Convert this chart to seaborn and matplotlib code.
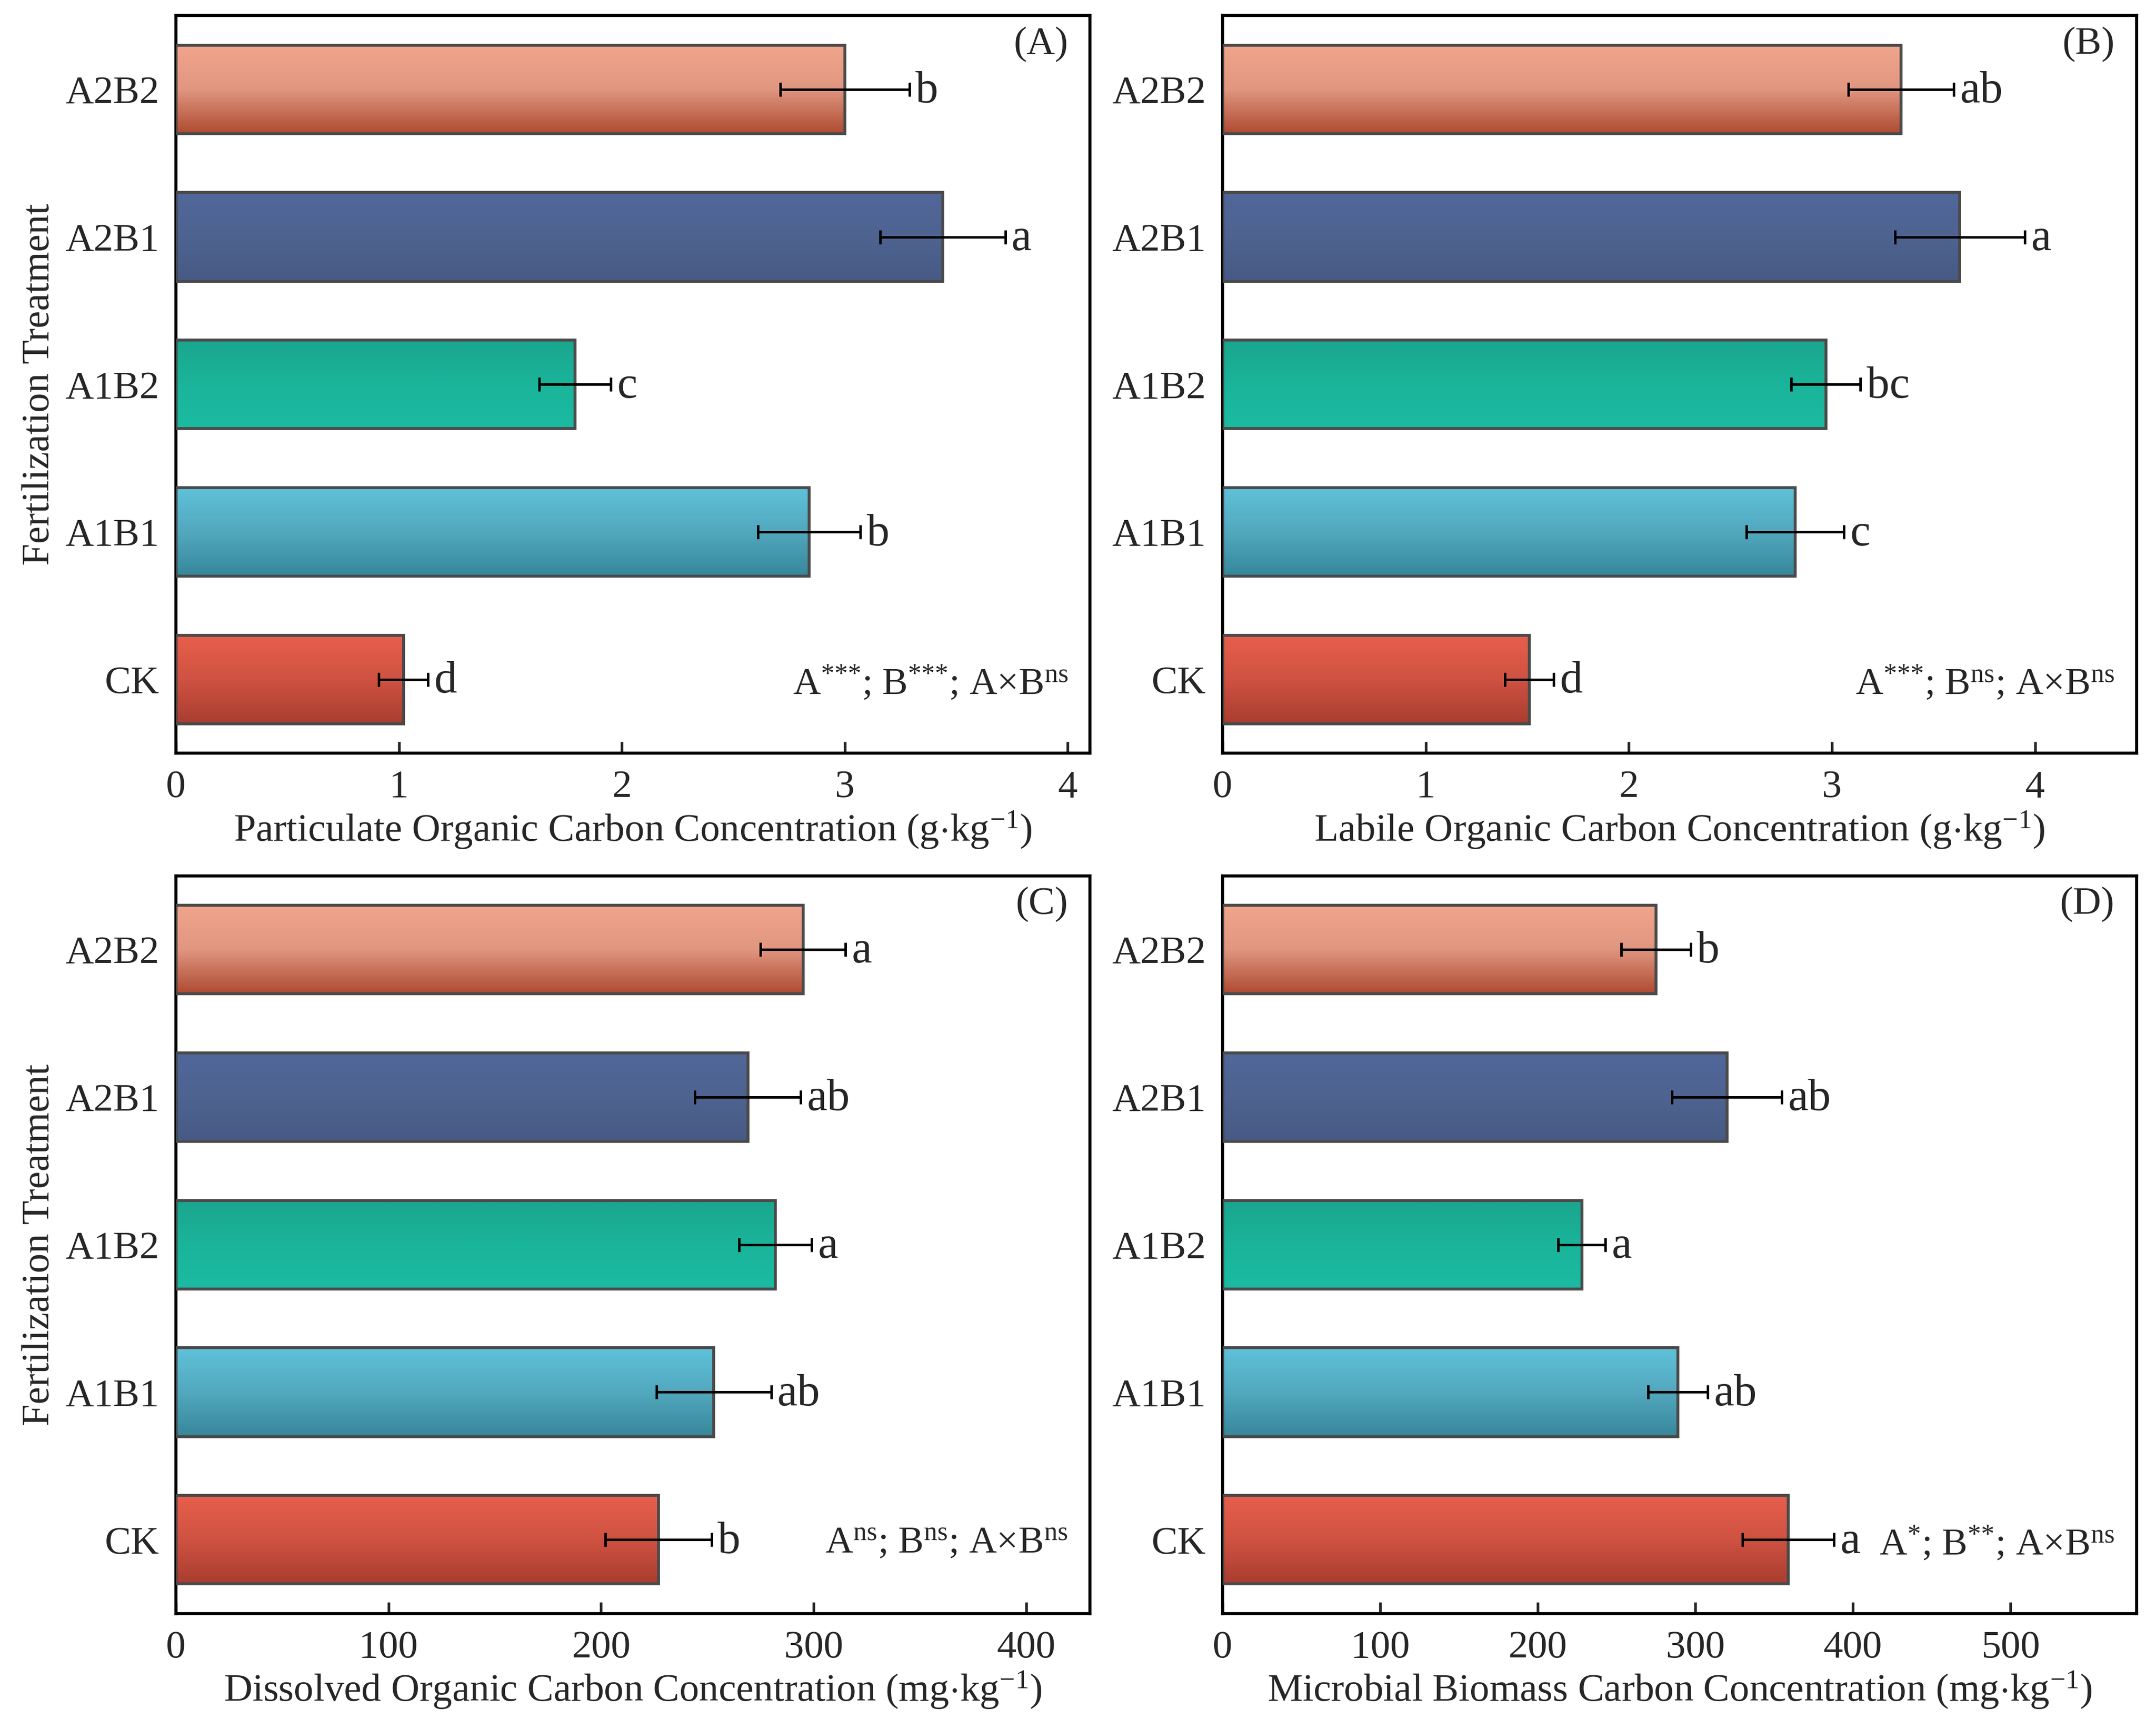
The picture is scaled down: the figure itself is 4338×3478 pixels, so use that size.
import numpy as np
import pandas as pd
import matplotlib
matplotlib.use('Agg')
import matplotlib.pyplot as plt
from matplotlib.colors import LinearSegmentedColormap
import seaborn as sns

# %% podaci

treatments = ['A2B2', 'A2B1', 'A1B2', 'A1B1', 'CK']

poc_mean = [3.00, 3.44, 1.79, 2.84, 1.02]
poc_err = [0.29, 0.28, 0.16, 0.23, 0.11]
poc_letters = ['b', 'a', 'c', 'b', 'd']

loc_mean = [3.34, 3.63, 2.97, 2.82, 1.51]
loc_err = [0.26, 0.32, 0.17, 0.24, 0.12]
loc_letters = ['ab', 'a', 'bc', 'c', 'd']

doc_mean = [295, 269, 282, 253, 227]
doc_err = [20, 25, 17, 27, 25]
doc_letters = ['a', 'ab', 'a', 'ab', 'b']

mbc_mean = [275, 320, 228, 289, 359]
mbc_err = [22, 35, 15, 19, 29]
mbc_letters = ['b', 'ab', 'a', 'ab', 'a']

# gradijent boje: (gore, sredina, dole)
grad_colors = {
    'A2B2': ['#F2A58C', '#E09680', '#AE4A31'],
    'A2B1': ['#51679A', '#4E6390', '#475A85'],
    'A1B2': ['#1AA68E', '#1AB49A', '#1BBBA2'],
    'A1B1': ['#5FC2DA', '#52A8BE', '#37879A'],
    'CK':   ['#E85F4C', '#CF5242', '#A83D2F'],
}

panels = [
    ('(A)', poc_mean, poc_err, poc_letters, [0, 1, 2, 3, 4], 4.1,
     r'Particulate Organic Carbon Concentration (g$\cdot$kg$^{-1}$)',
     r'A$^{{*}{*}{*}}$; B$^{{*}{*}{*}}$; A$\times$B$^{\mathrm{ns}}$'),
    ('(B)', loc_mean, loc_err, loc_letters, [0, 1, 2, 3, 4], 4.5,
     r'Labile Organic Carbon Concentration (g$\cdot$kg$^{-1}$)',
     r'A$^{{*}{*}{*}}$; B$^{\mathrm{ns}}$; A$\times$B$^{\mathrm{ns}}$'),
    ('(C)', doc_mean, doc_err, doc_letters, [0, 100, 200, 300, 400], 430,
     r'Dissolved Organic Carbon Concentration (mg$\cdot$kg$^{-1}$)',
     r'A$^{\mathrm{ns}}$; B$^{\mathrm{ns}}$; A$\times$B$^{\mathrm{ns}}$'),
    ('(D)', mbc_mean, mbc_err, mbc_letters, [0, 100, 200, 300, 400, 500], 580,
     r'Microbial Biomass Carbon Concentration (mg$\cdot$kg$^{-1}$)',
     r'A$^{*}$; B$^{{*}{*}}$; A$\times$B$^{\mathrm{ns}}$'),
]

# %% crtanje

sns.set_theme(style='white')
plt.rcParams['font.family'] = ['Liberation Serif', 'DejaVu Serif']
plt.rcParams['mathtext.fontset'] = 'custom'
plt.rcParams['mathtext.rm'] = 'Liberation Serif'
plt.rcParams['mathtext.it'] = 'Liberation Serif:italic'
plt.rcParams['mathtext.bf'] = 'Liberation Serif:bold'

fs = 19

fig, axes = plt.subplots(2, 2, figsize=(4338 / 300, 3478 / 300), dpi=300)
fig.subplots_adjust(left=0.0816, right=0.991, top=0.991, bottom=0.0668,
                    wspace=0.145, hspace=0.166)

for ax, (tag, mean, err, letters, xticks, xmax, xlabel, stats) in zip(axes.flat, panels):
    df = pd.DataFrame({'treatment': treatments, 'value': mean})
    sns.barplot(data=df, x='value', y='treatment', hue='treatment',
                order=treatments, palette=[grad_colors[t][0] for t in treatments],
                orient='h', width=0.6, legend=False, errorbar=None, ax=ax)

    # gradijent unutar svakog stubica
    for patch, t in zip(ax.patches, treatments):
        x0, y0 = patch.get_x(), patch.get_y()
        w, h = patch.get_width(), patch.get_height()
        cmap = LinearSegmentedColormap.from_list(t, grad_colors[t])
        ax.imshow(np.linspace(0, 1, 256).reshape(-1, 1), cmap=cmap, aspect='auto',
                  origin='upper', extent=(x0, x0 + w, y0 + h, y0), zorder=2)
        patch.set_facecolor('none')
        patch.set_edgecolor('#4A4A4A')
        patch.set_linewidth(1.4)
        patch.set_zorder(3)

    ypos = np.arange(len(treatments))
    ax.errorbar(mean, ypos, xerr=err, fmt='none', ecolor='black',
                elinewidth=1.2, capsize=3.4, capthick=1.2, zorder=4)

    for m, e, lab, y in zip(mean, err, letters, ypos):
        ax.annotate(lab, xy=(m + e, y), xytext=(3, -1), textcoords='offset points',
                    ha='left', va='center', fontsize=fs + 3, zorder=5)

    ax.text(0.976, 0.985, tag, transform=ax.transAxes, ha='right', va='top', fontsize=fs)
    ax.text(0.976, 0.095, stats, transform=ax.transAxes, ha='right', va='center', fontsize=18.5)

    ax.set_xlim(0, xmax)
    ax.set_ylim(4.5, -0.5)
    ax.set_xticks(xticks)
    ax.set_xlabel(xlabel, fontsize=fs, labelpad=2)
    ax.set_ylabel('')
    ax.tick_params(axis='x', direction='in', length=5.5, width=1.3, pad=8,
                   labelsize=fs, bottom=True)
    ax.tick_params(axis='y', length=0, pad=8, labelsize=fs, left=True)
    for sp in ax.spines.values():
        sp.set_visible(True)
        sp.set_color('black')
        sp.set_linewidth(1.5)

for ax in axes[:, 0]:
    ax.set_ylabel('Fertilization Treatment', fontsize=fs, labelpad=4)

plt.savefig('out.png', dpi=300)
